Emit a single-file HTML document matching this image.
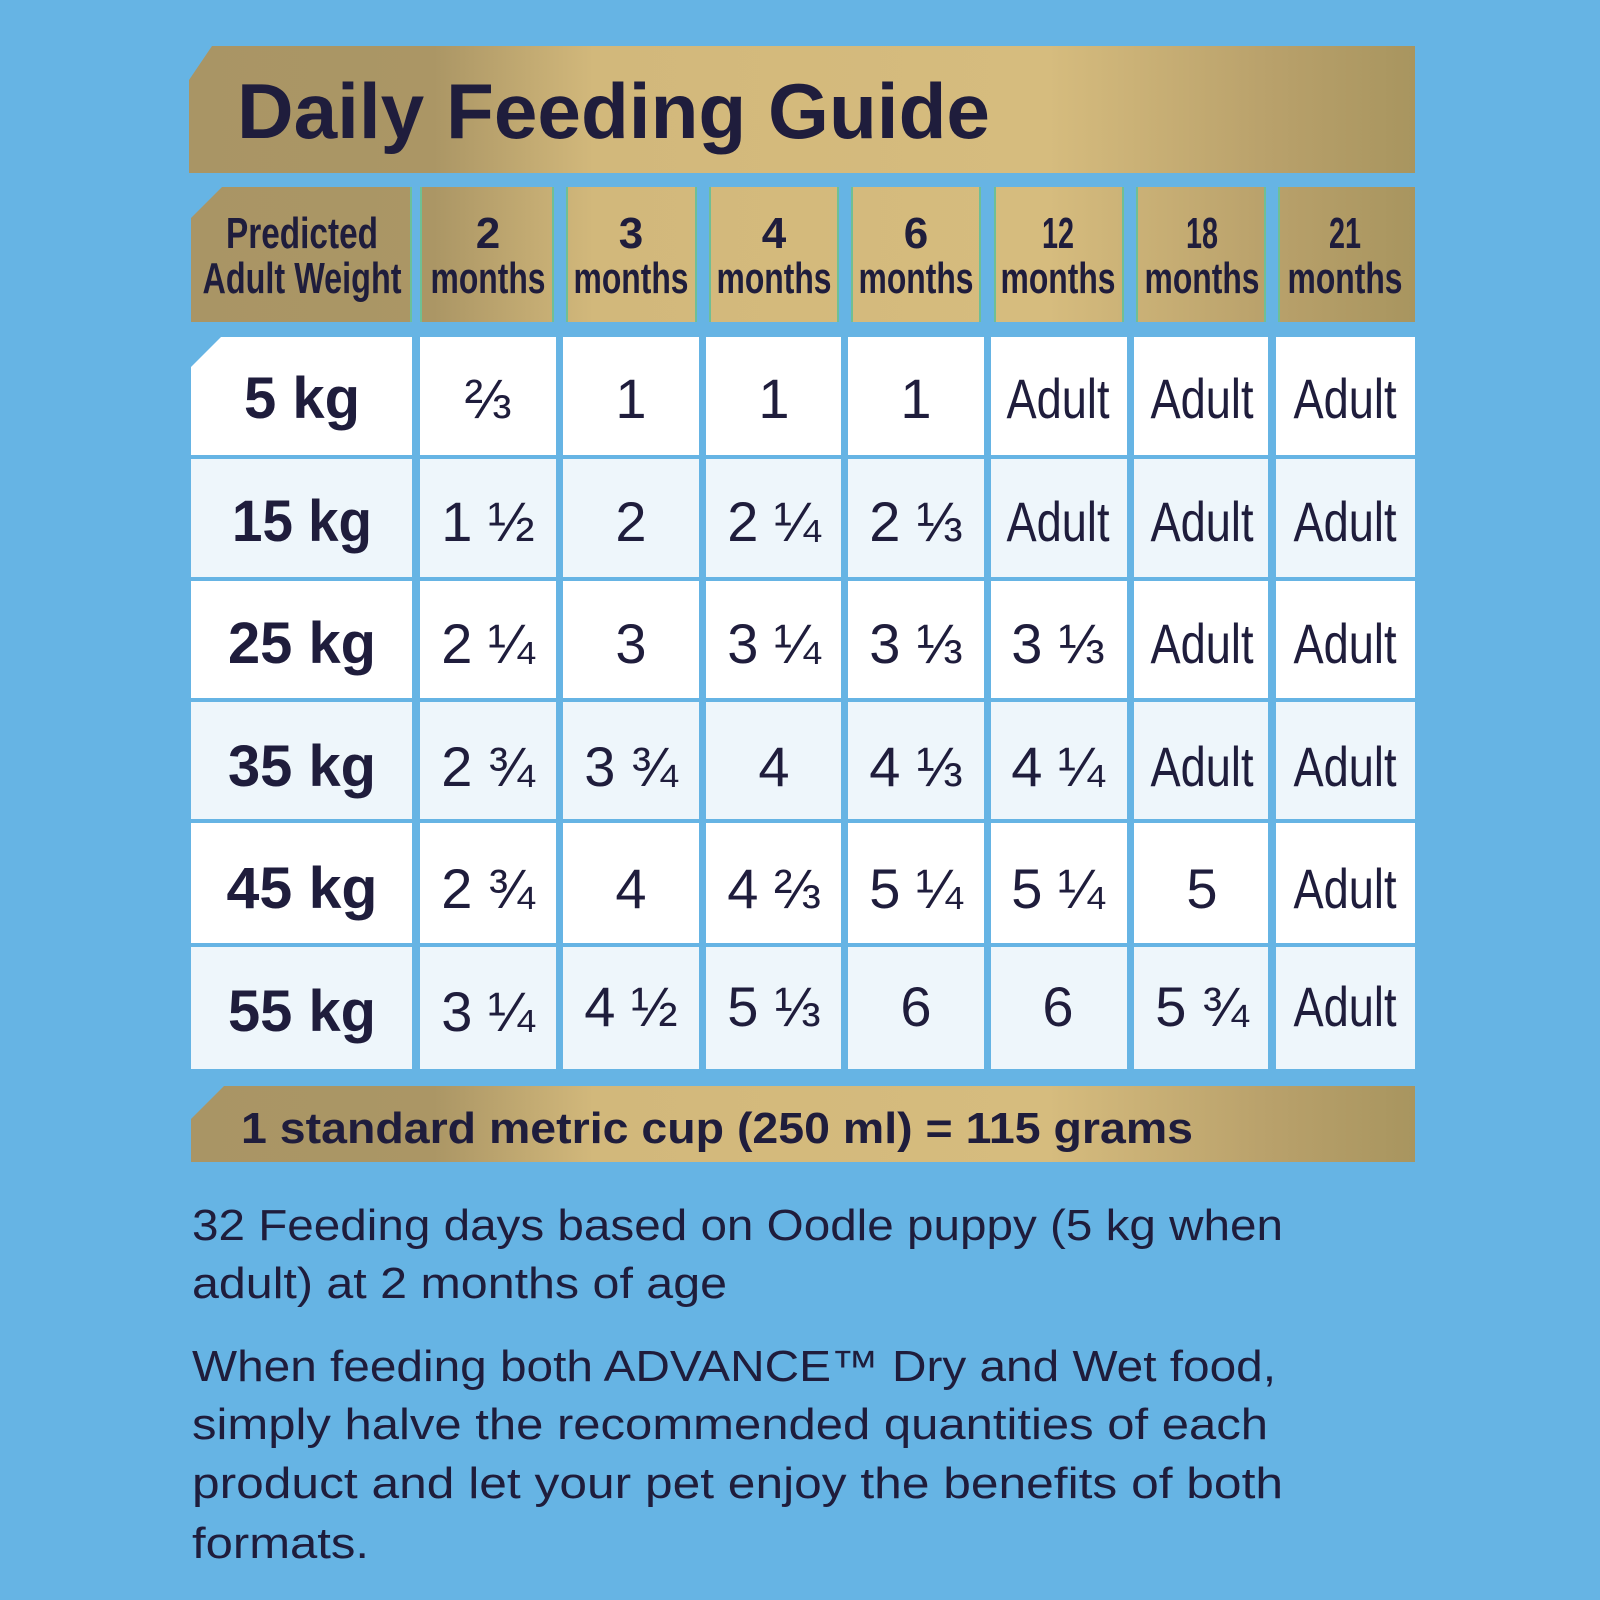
<!DOCTYPE html>
<html><head><meta charset="utf-8"><style>html,body{margin:0;padding:0;background:#66b4e4}svg{display:block}</style></head><body>
<svg width="1600" height="1600" viewBox="0 0 1600 1600" xmlns="http://www.w3.org/2000/svg" font-family="Liberation Sans, DejaVu Sans, sans-serif" fill="#1f1d3c">
<defs>
<linearGradient id="g" gradientUnits="userSpaceOnUse" x1="189" y1="0" x2="1415" y2="0">
<stop offset="0" stop-color="#a99565"/><stop offset="0.2" stop-color="#ab9665"/><stop offset="0.33" stop-color="#d2b87b"/><stop offset="0.7" stop-color="#d6bc7e"/><stop offset="0.88" stop-color="#b9a16b"/><stop offset="1" stop-color="#a8955f"/>
</linearGradient>
</defs>
<rect width="1600" height="1600" fill="#66b4e4"/>
<!-- title -->
<polygon points="212,46 1415,46 1415,173 189,173 189,80" fill="url(#g)"/>
<text x="237" y="138" font-size="78" font-weight="bold" textLength="753" lengthAdjust="spacingAndGlyphs">Daily Feeding Guide</text>
<!-- header -->
<g fill="url(#g)">
<polygon points="222,187 412,187 412,322 191,322 191,218"/>
<rect x="420" y="187" width="134" height="135"/>
<rect x="566" y="187" width="131" height="135"/>
<rect x="709" y="187" width="130" height="135"/>
<rect x="851" y="187" width="130" height="135"/>
<rect x="994" y="187" width="130" height="135"/>
<rect x="1136" y="187" width="130" height="135"/>
<rect x="1278" y="187" width="137" height="135"/>
</g>
<g stroke="#6fbf95" stroke-width="2">
<line x1="411" y1="187" x2="411" y2="322"/><line x1="421" y1="187" x2="421" y2="322"/><line x1="553" y1="187" x2="553" y2="322"/>
<line x1="567" y1="187" x2="567" y2="322"/><line x1="696" y1="187" x2="696" y2="322"/>
<line x1="710" y1="187" x2="710" y2="322"/><line x1="838" y1="187" x2="838" y2="322"/>
<line x1="852" y1="187" x2="852" y2="322"/><line x1="980" y1="187" x2="980" y2="322"/>
<line x1="995" y1="187" x2="995" y2="322"/><line x1="1123" y1="187" x2="1123" y2="322"/>
<line x1="1137" y1="187" x2="1137" y2="322"/><line x1="1265" y1="187" x2="1265" y2="322"/>
<line x1="1279" y1="187" x2="1279" y2="322"/>
</g>
<g font-size="44" font-weight="bold" text-anchor="middle">
<text x="302" y="248" textLength="152" lengthAdjust="spacingAndGlyphs">Predicted</text>
<text x="302" y="293" textLength="199" lengthAdjust="spacingAndGlyphs">Adult Weight</text>
<text x="488" y="248">2</text><text x="488" y="293" textLength="115" lengthAdjust="spacingAndGlyphs">months</text>
<text x="631" y="248">3</text><text x="631" y="293" textLength="115" lengthAdjust="spacingAndGlyphs">months</text>
<text x="774" y="248">4</text><text x="774" y="293" textLength="115" lengthAdjust="spacingAndGlyphs">months</text>
<text x="916" y="248">6</text><text x="916" y="293" textLength="115" lengthAdjust="spacingAndGlyphs">months</text>
<text x="1058" y="248" textLength="32" lengthAdjust="spacingAndGlyphs">12</text><text x="1058" y="293" textLength="115" lengthAdjust="spacingAndGlyphs">months</text>
<text x="1202" y="248" textLength="32" lengthAdjust="spacingAndGlyphs">18</text><text x="1202" y="293" textLength="115" lengthAdjust="spacingAndGlyphs">months</text>
<text x="1345" y="248" textLength="32" lengthAdjust="spacingAndGlyphs">21</text><text x="1345" y="293" textLength="115" lengthAdjust="spacingAndGlyphs">months</text>
</g>
<!-- body rows -->
<g>
<polygon points="221,337 412,337 412,455 191,455 191,367" fill="#ffffff"/>
<rect x="420" y="337" width="136" height="118" fill="#fff"/><rect x="563" y="337" width="136" height="118" fill="#fff"/><rect x="706" y="337" width="135" height="118" fill="#fff"/><rect x="848" y="337" width="136" height="118" fill="#fff"/><rect x="991" y="337" width="136" height="118" fill="#fff"/><rect x="1134" y="337" width="134" height="118" fill="#fff"/><rect x="1276" y="337" width="139" height="118" fill="#fff"/>
<g fill="#eef6fb"><rect x="191" y="459" width="221" height="118"/><rect x="420" y="459" width="136" height="118"/><rect x="563" y="459" width="136" height="118"/><rect x="706" y="459" width="135" height="118"/><rect x="848" y="459" width="136" height="118"/><rect x="991" y="459" width="136" height="118"/><rect x="1134" y="459" width="134" height="118"/><rect x="1276" y="459" width="139" height="118"/></g>
<g fill="#fff"><rect x="191" y="581" width="221" height="117"/><rect x="420" y="581" width="136" height="117"/><rect x="563" y="581" width="136" height="117"/><rect x="706" y="581" width="135" height="117"/><rect x="848" y="581" width="136" height="117"/><rect x="991" y="581" width="136" height="117"/><rect x="1134" y="581" width="134" height="117"/><rect x="1276" y="581" width="139" height="117"/></g>
<g fill="#eef6fb"><rect x="191" y="702" width="221" height="117"/><rect x="420" y="702" width="136" height="117"/><rect x="563" y="702" width="136" height="117"/><rect x="706" y="702" width="135" height="117"/><rect x="848" y="702" width="136" height="117"/><rect x="991" y="702" width="136" height="117"/><rect x="1134" y="702" width="134" height="117"/><rect x="1276" y="702" width="139" height="117"/></g>
<g fill="#fff"><rect x="191" y="823" width="221" height="120"/><rect x="420" y="823" width="136" height="120"/><rect x="563" y="823" width="136" height="120"/><rect x="706" y="823" width="135" height="120"/><rect x="848" y="823" width="136" height="120"/><rect x="991" y="823" width="136" height="120"/><rect x="1134" y="823" width="134" height="120"/><rect x="1276" y="823" width="139" height="120"/></g>
<g fill="#eef6fb"><rect x="191" y="947" width="221" height="122"/><rect x="420" y="947" width="136" height="122"/><rect x="563" y="947" width="136" height="122"/><rect x="706" y="947" width="135" height="122"/><rect x="848" y="947" width="136" height="122"/><rect x="991" y="947" width="136" height="122"/><rect x="1134" y="947" width="134" height="122"/><rect x="1276" y="947" width="139" height="122"/></g>
</g>
<g font-size="58" font-weight="bold" text-anchor="middle">
<text x="302" y="418">5 kg</text>
<text x="302" y="541" textLength="140" lengthAdjust="spacingAndGlyphs">15 kg</text>
<text x="302" y="663" textLength="148" lengthAdjust="spacingAndGlyphs">25 kg</text>
<text x="302" y="786" textLength="148" lengthAdjust="spacingAndGlyphs">35 kg</text>
<text x="302" y="908" textLength="151" lengthAdjust="spacingAndGlyphs">45 kg</text>
<text x="302" y="1031" textLength="148" lengthAdjust="spacingAndGlyphs">55 kg</text>
</g>
<g font-size="56" text-anchor="middle">
<text x="488" y="418">⅔</text><text x="631" y="418">1</text><text x="774" y="418">1</text><text x="916" y="418">1</text>
<text x="1058" y="418" textLength="103" lengthAdjust="spacingAndGlyphs">Adult</text><text x="1202" y="418" textLength="103" lengthAdjust="spacingAndGlyphs">Adult</text><text x="1345" y="418" textLength="103" lengthAdjust="spacingAndGlyphs">Adult</text>
<text x="488" y="541">1 ½</text><text x="631" y="541">2</text><text x="774" y="541">2 ¼</text><text x="916" y="541">2 ⅓</text>
<text x="1058" y="541" textLength="103" lengthAdjust="spacingAndGlyphs">Adult</text><text x="1202" y="541" textLength="103" lengthAdjust="spacingAndGlyphs">Adult</text><text x="1345" y="541" textLength="103" lengthAdjust="spacingAndGlyphs">Adult</text>
<text x="488" y="663">2 ¼</text><text x="631" y="663">3</text><text x="774" y="663">3 ¼</text><text x="916" y="663">3 ⅓</text><text x="1058" y="663">3 ⅓</text>
<text x="1202" y="663" textLength="103" lengthAdjust="spacingAndGlyphs">Adult</text><text x="1345" y="663" textLength="103" lengthAdjust="spacingAndGlyphs">Adult</text>
<text x="488" y="786">2 ¾</text><text x="631" y="786">3 ¾</text><text x="774" y="786">4</text><text x="916" y="786">4 ⅓</text><text x="1058" y="786">4 ¼</text>
<text x="1202" y="786" textLength="103" lengthAdjust="spacingAndGlyphs">Adult</text><text x="1345" y="786" textLength="103" lengthAdjust="spacingAndGlyphs">Adult</text>
<text x="488" y="908">2 ¾</text><text x="631" y="908">4</text><text x="774" y="908">4 ⅔</text><text x="916" y="908">5 ¼</text><text x="1058" y="908">5 ¼</text><text x="1202" y="908">5</text>
<text x="1345" y="908" textLength="103" lengthAdjust="spacingAndGlyphs">Adult</text>
<text x="488" y="1031">3 ¼</text><text x="631" y="1026">4 ½</text><text x="774" y="1026">5 ⅓</text><text x="916" y="1026">6</text><text x="1058" y="1026">6</text><text x="1202" y="1026">5 ¾</text>
<text x="1345" y="1026" textLength="103" lengthAdjust="spacingAndGlyphs">Adult</text>
</g>
<!-- footer bar -->
<polygon points="224,1086 1415,1086 1415,1162 191,1162 191,1119" fill="url(#g)"/>
<text x="241" y="1143" font-size="44" font-weight="bold" textLength="952" lengthAdjust="spacingAndGlyphs">1 standard metric cup (250 ml) = 115 grams</text>
<!-- paragraph -->
<g font-size="44">
<text x="192" y="1240" textLength="1091" lengthAdjust="spacingAndGlyphs">32 Feeding days based on Oodle puppy (5 kg when</text>
<text x="192" y="1298" textLength="535" lengthAdjust="spacingAndGlyphs">adult) at 2 months of age</text>
<text x="192" y="1381" textLength="1084" lengthAdjust="spacingAndGlyphs">When feeding both ADVANCE™ Dry and Wet food,</text>
<text x="192" y="1439" textLength="1076" lengthAdjust="spacingAndGlyphs">simply halve the recommended quantities of each</text>
<text x="192" y="1498" textLength="1091" lengthAdjust="spacingAndGlyphs">product and let your pet enjoy the benefits of both</text>
<text x="192" y="1558" textLength="177" lengthAdjust="spacingAndGlyphs">formats.</text>
</g>
</svg>
</body></html>
